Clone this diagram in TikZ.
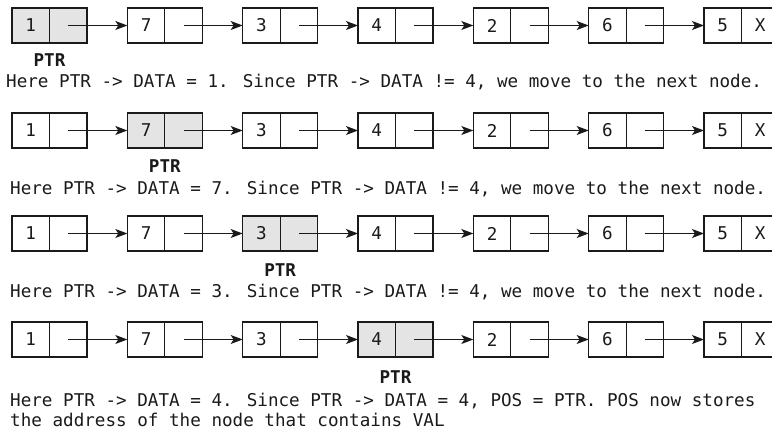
\documentclass[tikz,border=0pt]{standalone}
\usepackage{fontspec}
\newfontfamily\mono{DejaVu Sans Mono}
\usetikzlibrary{arrows.meta}
\definecolor{cellgray}{HTML}{E4E4E4}
\definecolor{ink}{HTML}{1A1A1A}
\tikzset{
  cell/.style={draw=ink, line width=1.1pt, minimum width=37.5pt, minimum height=35pt,
    inner sep=0pt, outer sep=0pt, font=\mono\fontsize{17.6}{20}\selectfont, text=ink},
  link/.style={draw=ink, line width=1.1pt, -{Stealth[length=12pt,width=9pt,inset=3pt]}},
  ptrlabel/.style={font=\mono\bfseries\fontsize{17.6}{20}\selectfont, text=ink, anchor=base, inner sep=0pt},
  note/.style={font=\mono\fontsize{17.6}{20}\selectfont, text=ink, anchor=base west, inner sep=0pt}
}
\begin{document}
\begin{tikzpicture}[x=1pt,y=-1pt]
\useasboundingbox (0,0) rectangle (772,435);
\clip (0,0) rectangle (772,435);
\foreach \r/\yt/\hl in {1/8/1,2/113/2,3/216/3,4/322/4}{
  \foreach \v [count=\i] in {1,7,3,4,2,6,5}{
    \ifnum\i=\hl \def\cf{cellgray}\else\def\cf{white}\fi
    \pgfmathsetmacro{\xl}{12+115.33*(\i-1)}
    \node[cell, fill=\cf, anchor=north west] (d\r-\i) at (\xl,\yt) {\v};
    \ifnum\i=7
      \node[cell, fill=\cf, anchor=north west] (p\r-\i) at (d\r-\i.north east) {X};
    \else
      \node[cell, fill=\cf, anchor=north west] (p\r-\i) at (d\r-\i.north east) {};
    \fi
  }
  \foreach \i [evaluate=\i as \j using int(\i+1)] in {1,...,6}{
    \draw[link] (p\r-\i.center) -- (d\r-\j.west);
  }
}
% PTR labels
\node[ptrlabel] (ptr1) at (d1-1.south east |- 0,67) {PTR};
\node[ptrlabel] (ptr2) at (d2-2.south east |- 0,173) {PTR};
\node[ptrlabel] (ptr3) at (d3-3.south east |- 0,277) {PTR};
\node[ptrlabel] (ptr4) at (d4-4.south east |- 0,384) {PTR};
% notes
\node[note] (n1) at (6,88) {Here PTR -> DATA = 1. Since PTR -> DATA != 4, we move to the next node.};
\node[note] (n2) at (10,195) {Here PTR -> DATA = 7. Since PTR -> DATA != 4, we move to the next node.};
\node[note] (n3) at (10,298) {Here PTR -> DATA = 3. Since PTR -> DATA != 4, we move to the next node.};
\node[note] (n4) at (10,407) {Here PTR -> DATA = 4. Since PTR -> DATA = 4, POS = PTR. POS now stores};
\node[note] (n5) at (10,427) {the address of the node that contains VAL};
\end{tikzpicture}
\end{document}
